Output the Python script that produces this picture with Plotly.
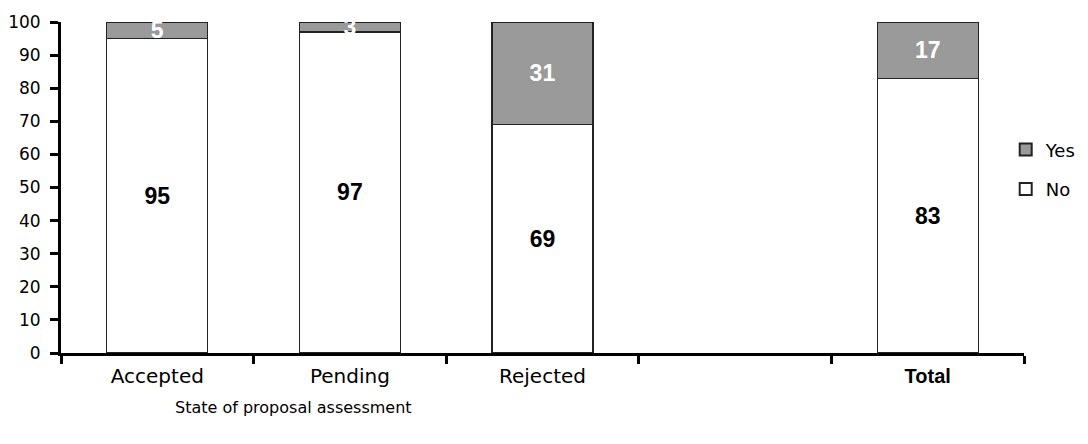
import plotly.graph_objects as go

categories = ["Accepted", "Pending", "Rejected", " ", "Total"]
tick_labels = [
    "Accepted", "Pending", "Rejected", "",
    "<span style='font-family:Liberation Sans;font-size:20px'><b>Total</b></span>",
]
no_values = [95, 97, 69, None, 83]
yes_values = [5, 3, 31, None, 17]

label_font = "Liberation Sans, Arial, sans-serif"
axis_font = "DejaVu Sans, sans-serif"

fig = go.Figure()
fig.add_trace(go.Bar(
    name="No", x=categories, y=no_values, legendgroup="no", legendrank=2,
    marker=dict(color="white", line=dict(color="#222222", width=1.2)),
    text=[f"<b>{v}</b>" if v is not None else "" for v in no_values],
    textposition="inside", insidetextanchor="middle", constraintext="none",
    textangle=0,
    textfont=dict(family=label_font, size=23, color="black"),
    width=0.525,
))
fig.add_trace(go.Bar(
    name="Yes", x=categories, y=yes_values, legendgroup="yes", legendrank=1,
    marker=dict(color="#9a9a9a", line=dict(color="#222222", width=1.2)),
    text=[f"<b>{v}</b>" if v is not None else "" for v in yes_values],
    textposition="inside", insidetextanchor="middle", constraintext="none",
    textangle=0,
    textfont=dict(family=label_font, size=23, color="white"),
    width=0.525,
))

fig.update_layout(
    width=1088, height=444,
    barmode="stack",
    plot_bgcolor="white", paper_bgcolor="white",
    margin=dict(l=61, r=64, t=22, b=91, autoexpand=False),
    font=dict(family=axis_font, color="black"),
    showlegend=True,
    legend=dict(
        x=0.981, y=0.555, xanchor="left", yanchor="middle",
        traceorder="grouped", tracegroupgap=13,
        font=dict(family=axis_font, size=18, color="black"),
        itemsizing="constant",
    ),
    xaxis=dict(
        tickmode="array", tickvals=categories, ticktext=tick_labels,
        tickson="boundaries", ticks="outside", ticklen=8, tickwidth=3,
        tickcolor="black", showline=True, linecolor="black", linewidth=3,
        tickfont=dict(family=axis_font, size=20, color="black"),
        ticklabelstandoff=3, automargin=False,
        showgrid=False, zeroline=False,
    ),
    yaxis=dict(
        range=[0, 100], dtick=10, ticks="outside", ticklen=8, tickwidth=3,
        tickcolor="black", showline=True, linecolor="black", linewidth=3,
        tickfont=dict(family=axis_font, size=17, color="black"),
        ticklabelstandoff=6, automargin=False,
        showgrid=False, zeroline=False,
    ),
    annotations=[dict(
        text="State of proposal assessment", xref="paper", yref="paper",
        x=(293 - 61) / 963, y=-0.13, xanchor="center", yanchor="top",
        showarrow=False, font=dict(family=axis_font, size=16, color="black"),
    )],
)

fig.write_html("out.html")
